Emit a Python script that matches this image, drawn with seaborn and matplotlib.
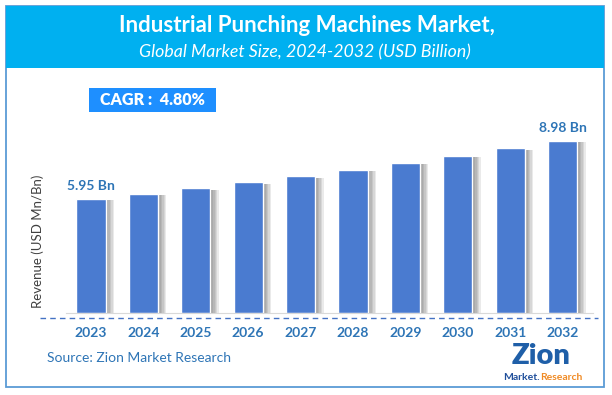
import numpy as np
import pandas as pd
import seaborn as sns
import matplotlib.pyplot as plt
import matplotlib.patheffects as pe
from matplotlib.patches import Rectangle
from matplotlib.lines import Line2D

# data
years = ['2023', '2024', '2025', '2026', '2027', '2028', '2029', '2030', '2031', '2032']
revenue = [5.95, 6.22, 6.51, 6.82, 7.14, 7.48, 7.84, 8.21, 8.59, 8.98]
labels = {'2023': '5.95 Bn', '2032': '8.98 Bn'}
title = 'Industrial Punching Machines Market,'
subtitle = 'Global Market Size, 2024-2032 (USD Billion)'
cagr_text = 'CAGR :  4.80%'
ylabel = 'Revenue (USD Mn/Bn)'
source = 'Source: Zion Market Research'

df = pd.DataFrame({'year': years, 'revenue': revenue})

sns.set_style('white')
plt.rcParams['font.family'] = ['Lato', 'DejaVu Sans']

W, H = 612, 395
fig = plt.figure(figsize=(W / 100, H / 100), dpi=100)

def fx(px):
    return px / W

def fy(py):
    return 1 - py / H

# frame and title band
fig.patches.append(Rectangle((fx(6), fy(387)), fx(598), (381) / H, transform=fig.transFigure,
                             facecolor='none', edgecolor='#5B9BD5', lw=1.3, zorder=-1))
fig.patches.append(Rectangle((fx(6), fy(68)), fx(598), 62 / H, transform=fig.transFigure,
                             facecolor='#00B0F0', edgecolor='none', zorder=1))
fig.text(fx(307), fy(25), title, color='white', fontsize=16, fontweight='bold',
         ha='center', va='center')
fig.text(fx(305), fy(52), subtitle, color='white', fontsize=12.8, style='italic',
         ha='center', va='center')

# CAGR box
fig.patches.append(Rectangle((fx(89), fy(112)), fx(127), 24 / H, transform=fig.transFigure,
                             facecolor='#1E8FFF', edgecolor='none', zorder=1))
fig.text(fx(152), fy(100), cagr_text, color='white', fontsize=11.5, fontweight='heavy',
         ha='center', va='center')

# axes placed so bars land where they do in the reference
ax = fig.add_axes([fx(66), fy(313), fx(527), 198 / H])
ax.patch.set_alpha(0)
sns.barplot(data=df, x='year', y='revenue', color='#4A7BD0', saturation=1, width=0.56, ax=ax)

# soft shadow to the right of each bar
shadow = [pe.SimplePatchShadow(offset=(k, -1), shadow_rgbFace='#444444', alpha=0.11)
          for k in (1, 2, 3, 4, 5, 6)]
for p in ax.patches:
    p.set_path_effects(shadow + [pe.Normal()])

ax.set_xlim(-0.477, 9.58)
ax.set_ylim(0, 10.33)
ax.set_xlabel('')
ax.set_ylabel('')
ax.set_yticks([])
for s in ['top', 'right', 'left']:
    ax.spines[s].set_visible(False)
ax.spines['bottom'].set_color('#D9D9D9')
ax.tick_params(axis='x', length=0, pad=10)
for t in ax.get_xticklabels():
    t.set_color('#2E75B6')
    t.set_fontweight('bold')
    t.set_fontsize(10)

for i, y in enumerate(years):
    if y in labels:
        ax.annotate(labels[y], (i, revenue[i]), xytext=(0, 5), textcoords='offset points',
                    ha='center', va='bottom', color='#2E75B6', fontsize=10, fontweight='bold')

# dashed rule under the bars
fig.lines.append(Line2D([fx(40), fx(598)], [fy(318), fy(318)], transform=fig.transFigure,
                        color='#4472C4', lw=1, ls=(0, (4, 3))))

fig.text(fx(38), fy(241), ylabel, rotation=90, color='#404040', fontsize=9.5,
         ha='center', va='center')
fig.text(fx(47), fy(358), source, color='#2E75B6', fontsize=10, ha='left', va='center')

# logo
fig.text(fx(541), fy(356), 'Zion', color='#1F5FA8', fontsize=21, fontweight='heavy',
         ha='center', va='center')
fig.text(fx(540), fy(377), 'Market.', color='#1F4E9A', fontsize=7.5, fontweight='bold',
         ha='right', va='center')
fig.text(fx(540), fy(377), 'Research', color='#F08A24', fontsize=7.5, fontweight='bold',
         ha='left', va='center')

fig.savefig('out.png', dpi=100)
